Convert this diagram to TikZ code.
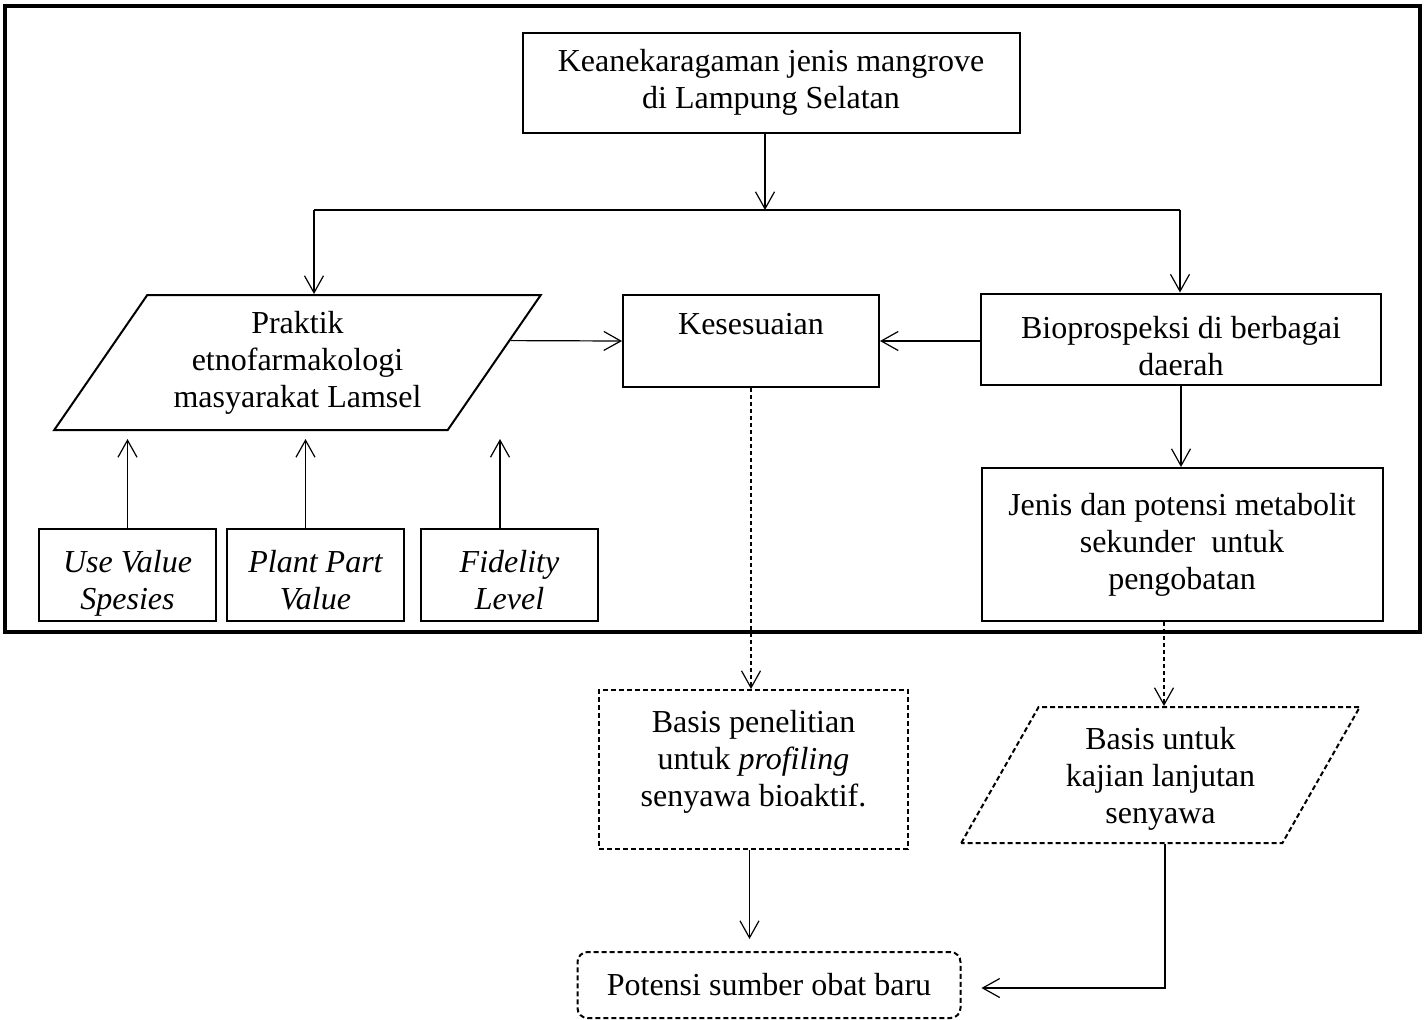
\documentclass[tikz,border=0pt]{standalone}
\usepackage{fontspec}
\setmainfont{Liberation Serif}
\usetikzlibrary{arrows.meta,shapes.geometric,calc}

\tikzset{
  box/.style={draw, line width=1pt, align=center, inner sep=2pt, font=\fontsize{16}{18.5}\selectfont},
  para/.style={box, trapezium, trapezium stretches=true},
  dbox/.style={box, dash pattern=on 2.5pt off 1.5pt},
  ibox/.style={box, minimum width=88.5pt, minimum height=46pt, text height=34pt, text depth=0pt, font=\fontsize{16}{18.5}\selectfont\itshape},
  arw/.style={line width=0.6pt, -{Straight Barb[length=8.5pt,width=9.5pt]}},
  darw/.style={arw, dash pattern=on 2pt off 1.5pt},
}

\begin{document}
\begin{tikzpicture}[x=0.5pt,y=0.5pt,yscale=-1]
\useasboundingbox (0,0) rectangle (1424,1019);

%Shape: Frame
\draw [line width=2pt] (5,6) rectangle (1420,632);

%Shape: Rectangle
\node (top) at (771,82.5) [box, minimum width=248.5pt, minimum height=50pt] {Keanekaragaman jenis mangrove\\di Lampung Selatan};
%Shape: Parallelogram
\node (praktik) at (297.5,362.5) [para, trapezium left angle=54.5, trapezium right angle=125.5, minimum width=243.5pt, minimum height=67.5pt] {Praktik\\etnofarmakologi\\masyarakat Lamsel};
%Shape: Rectangle
\node (kes) at (751,341) [box, minimum width=128pt, minimum height=46pt, text height=11pt, text depth=18pt] {Kesesuaian};
%Shape: Rectangle
\node (bio) at (1181,339) [box, minimum width=200pt, minimum height=45.5pt, text height=36pt, text depth=0pt] {Bioprospeksi di berbagai\\daerah};
%Shape: Rectangle
\node (jenis) at (1182,544.5) [box, minimum width=200.5pt, minimum height=76.5pt] {Jenis dan potensi metabolit\\sekunder~ untuk\\pengobatan};

%Shape: Rectangle
\node (uv) at (127.5,575) [ibox] {Use Value\\Spesies};
%Shape: Rectangle
\node (ppv) at (315.5,575) [ibox] {Plant Part\\Value};
%Shape: Rectangle
\node (fl) at (509.5,575) [ibox] {Fidelity\\Level};

%Shape: Dashed Rectangle
\node (bp) at (753.5,769.5) [dbox, minimum width=154.5pt, minimum height=79.5pt, text depth=11.5pt] {Basis penelitian\\untuk \textit{profiling}\\senyawa bioaktif.};
%Shape: Dashed Parallelogram
\node (bu) at (1160.5,775) [dbox, trapezium, trapezium stretches=true, trapezium left angle=59, trapezium right angle=121, minimum width=199.5pt, minimum height=68pt, text depth=0pt] {Basis untuk\\kajian lanjutan\\senyawa};
%Shape: Dashed Rounded Rectangle
\node (pot) at (769,985) [dbox, rounded corners=5pt, minimum width=191.5pt, minimum height=33pt] {Potensi sumber obat baru};

\coordinate (mid) at (765,210);
\coordinate (lsplit) at (314,210);
\coordinate (rsplit) at (1180,210);
\coordinate (bend) at (1165,988);

%Straight Lines
\draw [arw] (mid |- top.south) -- (mid);
\draw [line width=0.6pt] (lsplit) -- (rsplit);
\draw [arw] (lsplit) -- (lsplit |- praktik.north);
\draw [arw] (rsplit) -- (rsplit |- bio.north);
\draw [arw] ($(praktik.top right corner)!0.34!(praktik.bottom right corner)$) -- (kes.west);
\draw [arw] (bio.west |- kes.east) -- (kes.east);
\draw [arw] (bio.south) -- (bio.south |- jenis.north);

\draw [arw, shorten >=4pt] (uv.north) -- (uv.north |- praktik.south);
\draw [arw, shorten >=4pt] ([xshift=-5pt]ppv.north) -- ([xshift=-5pt]ppv.north |- praktik.south);
\draw [arw, shorten >=4pt] ([xshift=-4.75pt]fl.north) -- ([xshift=-4.75pt]fl.north |- praktik.south);

%Dashed Lines
\draw [darw] (kes.south) -- (kes.south |- bp.north);
\draw [darw] ([xshift=-9pt]jenis.south) -- ([xshift=-9pt]jenis.south |- bu.north);

\draw [arw, shorten >=6pt] ([xshift=-2pt]bp.south) -- ([xshift=-2pt]bp.south |- pot.north);
\draw [arw, shorten >=10pt] (bend |- bu.south) -- (bend) -- (pot.east |- bend);

\end{tikzpicture}
\end{document}
